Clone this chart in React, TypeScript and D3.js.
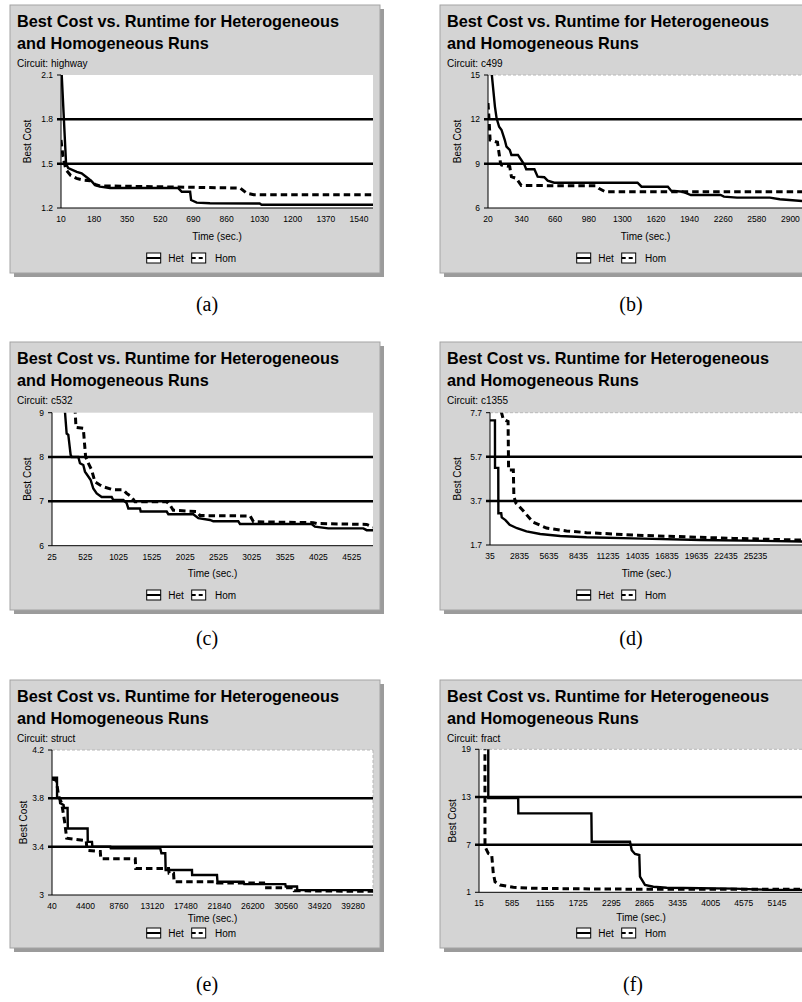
import React from 'react';
import * as d3 from 'd3';

// ---------- tick labels ----------
const highwayXTicks = [10, 180, 350, 520, 690, 860, 1030, 1200, 1370, 1540];
const highwayYTicks = [1.2, 1.5, 1.8, 2.1];
const c499XTicks = [20, 340, 660, 980, 1300, 1620, 1940, 2260, 2580, 2900];
const c499YTicks = [6, 9, 12, 15];
const c532XTicks = [25, 525, 1025, 1525, 2025, 2525, 3025, 3525, 4025, 4525];
const c532YTicks = [6, 7, 8, 9];
const c1355XTicks = [35, 2835, 5635, 8435, 11235, 14035, 16835, 19635, 22435, 25235];
const c1355YTicks = [1.7, 3.7, 5.7, 7.7];
const structXTicks = [40, 4400, 8760, 13120, 17480, 21840, 26200, 30560, 34920, 39280];
const structYTicks = [3, 3.4, 3.8, 4.2];
const fractXTicks = [15, 585, 1155, 1725, 2295, 2865, 3435, 4005, 4575, 5145];
const fractYTicks = [1, 7, 13, 19];

// ---------- series ----------
const highwayHetTime = [10, 36, 47, 91, 116, 150, 168, 185, 210, 262, 612, 630, 673, 678, 707, 775, 1030, 1040, 1612];
const highwayHetCost = [2.2, 1.5, 1.47, 1.445, 1.435, 1.4, 1.38, 1.355, 1.345, 1.335, 1.335, 1.31, 1.31, 1.254, 1.236, 1.232, 1.23, 1.222, 1.222];
const highwayHomTime = [10, 20, 35, 60, 90, 120, 160, 185, 210, 930, 963, 1000, 1612];
const highwayHomCost = [1.66, 1.55, 1.46, 1.42, 1.4, 1.39, 1.385, 1.36, 1.35, 1.335, 1.3, 1.29, 1.29];

const c499HetTime = [40, 86, 102, 126, 149, 180, 196, 227, 243, 305, 337, 368, 384, 462, 493, 556, 588, 651, 1444, 1482, 1733, 1764, 1874, 1952, 2235, 2267, 2392, 2705, 2799, 3020];
const c499HetCost = [16.2, 12.86, 12.07, 11.5, 11.28, 10.6, 10.15, 9.93, 9.59, 9.59, 9.25, 8.91, 8.62, 8.62, 8.12, 8.08, 7.85, 7.71, 7.71, 7.44, 7.44, 7.17, 7.1, 6.88, 6.88, 6.77, 6.7, 6.7, 6.59, 6.47];
const c499HomTime = [20, 30, 40, 110, 140, 150, 227, 243, 290, 337, 1043, 1074, 1137, 3020];
const c499HomCost = [13.1, 12.0, 10.6, 10.45, 9.0, 8.9, 8.8, 8.12, 8.0, 7.52, 7.5, 7.33, 7.1, 7.1];

const c532HetTime = [200, 245, 270, 305, 320, 420, 445, 495, 520, 570, 606, 645, 696, 771, 921, 945, 1096, 1146, 1171, 1346, 1357, 1747, 1772, 2147, 2222, 2397, 2447, 2822, 2848, 3923, 3973, 4173, 4700, 4750, 4845];
const c532HetCost = [9.4, 8.53, 8.5, 8.05, 8.0, 8.0, 7.86, 7.82, 7.67, 7.56, 7.48, 7.29, 7.18, 7.1, 7.1, 7.03, 7.03, 6.96, 6.84, 6.84, 6.77, 6.77, 6.71, 6.71, 6.62, 6.58, 6.55, 6.55, 6.49, 6.49, 6.43, 6.39, 6.39, 6.35, 6.35];
const c532HomTime = [355, 385, 495, 530, 570, 620, 670, 745, 795, 945, 1096, 1146, 1221, 1271, 1747, 1796, 1846, 2200, 2247, 3000, 3050, 3950, 4000, 4750, 4845];
const c532HomCost = [9.6, 8.67, 8.65, 8.0, 7.86, 7.71, 7.44, 7.37, 7.33, 7.26, 7.26, 7.18, 7.1, 6.99, 6.99, 6.92, 6.8, 6.77, 6.68, 6.67, 6.54, 6.52, 6.5, 6.48, 6.42];

const c1355HetTime = [35, 505, 512, 820, 830, 1100, 1150, 1500, 1900, 2600, 3500, 4800, 6700, 9200, 13600, 20000, 29743];
const c1355HetCost = [7.35, 7.35, 5.2, 5.2, 3.14, 3.14, 2.95, 2.83, 2.62, 2.46, 2.32, 2.2, 2.11, 2.05, 2.0, 1.93, 1.86];
const c1355HomTime = [1100, 1300, 1750, 1800, 2250, 2300, 2500, 3100, 4100, 5400, 7300, 9200, 11700, 13600, 18000, 23100, 29743];
const c1355HomCost = [7.75, 7.4, 7.3, 5.1, 5.1, 3.9, 3.6, 3.3, 2.74, 2.47, 2.34, 2.26, 2.2, 2.15, 2.08, 2.0, 1.92];

const structHetTime = [40, 690, 700, 1030, 1100, 1550, 1600, 2070, 2100, 4680, 4700, 5250, 5300, 7640, 7700, 14150, 14300, 14800, 14850, 18280, 18300, 21540, 21600, 25000, 25100, 30440, 30500, 31970, 32000, 41870];
const structHetCost = [3.97, 3.97, 3.81, 3.8, 3.76, 3.745, 3.72, 3.72, 3.55, 3.55, 3.44, 3.44, 3.4, 3.4, 3.386, 3.386, 3.345, 3.345, 3.207, 3.207, 3.166, 3.166, 3.11, 3.11, 3.09, 3.09, 3.07, 3.07, 3.04, 3.04];
const structHomTime = [40, 600, 900, 1300, 1700, 1950, 4500, 4600, 6330, 6400, 10890, 10950, 15230, 15300, 15880, 15950, 21540, 21600, 27620, 27700, 31520, 31600, 41870];
const structHomCost = [3.96, 3.95, 3.82, 3.76, 3.6, 3.47, 3.45, 3.37, 3.36, 3.3, 3.3, 3.22, 3.22, 3.18, 3.18, 3.11, 3.11, 3.1, 3.1, 3.06, 3.06, 3.035, 3.03];

const fractHetTime = [174, 175, 690, 692, 1950, 1956, 2615, 2645, 2701, 2775, 2787, 2873, 3017, 3247, 4394, 4969, 5594];
const fractHetCost = [25, 12.85, 12.85, 10.94, 10.94, 7.37, 7.37, 6.3, 5.82, 5.7, 2.96, 1.92, 1.7, 1.58, 1.46, 1.33, 1.3];
const fractHomTime = [117, 118, 175, 234, 261, 291, 377, 606, 950, 2099, 3247, 5594];
const fractHomCost = [25, 6.74, 5.9, 5.7, 3.4, 2.33, 1.92, 1.63, 1.5, 1.41, 1.38, 1.38];

const titleLine1 = 'Best Cost vs. Runtime for Heterogeneous';
const titleLine2 = 'and Homogeneous Runs';
const legendLabels = ['Het', 'Hom'];

type Panel = {
  circuit: string; caption: string;
  bx: number; by: number;
  plotL: number; plotR: number; plotT: number; plotB: number;
  xDomain: [number, number]; yDomain: [number, number];
  xTicks: number[]; yTicks: number[];
  hetT: number[]; hetV: number[]; homT: number[]; homV: number[];
  border: boolean; yLabelX: number; xLabelDy: number; captionX: number; captionY: number;
};

const panels: Panel[] = [
  { circuit: 'highway', caption: '(a)', bx: 10, by: 5, plotL: 61, plotR: 373, plotT: 75, plotB: 208,
    xDomain: [10, 1612], yDomain: [1.2, 2.1], xTicks: highwayXTicks, yTicks: highwayYTicks,
    hetT: highwayHetTime, hetV: highwayHetCost, homT: highwayHomTime, homV: highwayHomCost,
    border: false, yLabelX: 27, xLabelDy: 234.5, captionX: 207, captionY: 311 },
  { circuit: 'c499', caption: '(b)', bx: 440, by: 5, plotL: 488, plotR: 803, plotT: 75, plotB: 208,
    xDomain: [20, 3020], yDomain: [6, 15], xTicks: c499XTicks, yTicks: c499YTicks,
    hetT: c499HetTime, hetV: c499HetCost, homT: c499HomTime, homV: c499HomCost,
    border: true, yLabelX: 457.5, xLabelDy: 234.5, captionX: 631, captionY: 311 },
  { circuit: 'c532', caption: '(c)', bx: 10, by: 342, plotL: 52, plotR: 373, plotT: 412.7, plotB: 545.7,
    xDomain: [25, 4845], yDomain: [6, 9], xTicks: c532XTicks, yTicks: c532YTicks,
    hetT: c532HetTime, hetV: c532HetCost, homT: c532HomTime, homV: c532HomCost,
    border: false, yLabelX: 27.5, xLabelDy: 234.5, captionX: 207, captionY: 645 },
  { circuit: 'c1355', caption: '(d)', bx: 440, by: 342, plotL: 490, plotR: 803, plotT: 412.7, plotB: 545,
    xDomain: [35, 29743], yDomain: [1.7, 7.7], xTicks: c1355XTicks, yTicks: c1355YTicks,
    hetT: c1355HetTime, hetV: c1355HetCost, homT: c1355HomTime, homV: c1355HomCost,
    border: true, yLabelX: 457.5, xLabelDy: 234.5, captionX: 631, captionY: 645 },
  { circuit: 'struct', caption: '(e)', bx: 10, by: 680, plotL: 52, plotR: 373, plotT: 750, plotB: 895,
    xDomain: [40, 41870], yDomain: [3, 4.2], xTicks: structXTicks, yTicks: structYTicks,
    hetT: structHetTime, hetV: structHetCost, homT: structHomTime, homV: structHomCost,
    border: true, yLabelX: 23, xLabelDy: 241.5, captionX: 207, captionY: 991 },
  { circuit: 'fract', caption: '(f)', bx: 440, by: 680, plotL: 479, plotR: 803, plotT: 749.3, plotB: 892.3,
    xDomain: [15, 5594], yDomain: [1, 19], xTicks: fractXTicks, yTicks: fractYTicks,
    hetT: fractHetTime, hetV: fractHetCost, homT: fractHomTime, homV: fractHomCost,
    border: true, yLabelX: 452.5, xLabelDy: 240.5, captionX: 633, captionY: 991 },
];

const SANS = '"Liberation Sans", Arial, sans-serif';
const SERIF = '"Liberation Serif", "Times New Roman", serif';

function ChartPanel({ p, idx }: { p: Panel; idx: number }) {
  const x = d3.scaleLinear().domain(p.xDomain).range([p.plotL, p.plotR]);
  const y = d3.scaleLinear().domain(p.yDomain).range([p.plotB, p.plotT]);
  const line = d3.line<[number, number]>().x(d => x(d[0])).y(d => y(d[1]));
  const het = p.hetT.map((t, i) => [t, p.hetV[i]] as [number, number]);
  const hom = p.homT.map((t, i) => [t, p.homV[i]] as [number, number]);
  const bw = 370, bh = 268;
  const clipId = `clip-${idx}`;
  const fmt = (v: number) => String(v);
  const legY = p.by + 253;
  const lx = p.bx + 136.7;
  return (
    <g>
      <rect x={p.bx + 4} y={p.by + 4} width={bw} height={bh} fill="#9b9b9b" />
      <rect x={p.bx} y={p.by} width={bw} height={bh} fill="#d4d4d4" stroke="#a3a3a3" strokeWidth={1} />
      <text x={p.bx + 7} y={p.by + 21.7} fontFamily={SANS} fontWeight="bold" fontSize={16.3} fill="#000">{titleLine1}</text>
      <text x={p.bx + 7} y={p.by + 43.5} fontFamily={SANS} fontWeight="bold" fontSize={16.3} fill="#000">{titleLine2}</text>
      <text x={p.bx + 7} y={p.by + 62.3} fontFamily={SANS} fontSize={10} fill="#000">{`Circuit: ${p.circuit}`}</text>
      <rect x={p.plotL} y={p.plotT} width={p.plotR - p.plotL} height={p.plotB - p.plotT} fill="#fff" />
      {p.border && (
        <g stroke="#b8b8b8" strokeWidth={1} strokeDasharray="3 2" fill="none">
          <line x1={p.plotL} x2={p.plotR} y1={p.plotT} y2={p.plotT} />
          <line x1={p.plotR} x2={p.plotR} y1={p.plotT} y2={p.plotB} />
        </g>
      )}
      <defs>
        <clipPath id={clipId}>
          <rect x={p.plotL} y={p.plotT} width={p.plotR - p.plotL} height={p.plotB - p.plotT} />
        </clipPath>
      </defs>
      {p.yTicks.slice(1, -1).map(v => (
        <line key={v} x1={p.plotL - 4} x2={p.plotR} y1={y(v)} y2={y(v)} stroke="#000" strokeWidth={2.5} />
      ))}
      <g clipPath={`url(#${clipId})`}>
        <path d={line(het) || ''} fill="none" stroke="#000" strokeWidth={2.4} strokeLinejoin="miter" />
        <path d={line(hom) || ''} fill="none" stroke="#000" strokeWidth={3} strokeDasharray="6.5 4" />
      </g>
      <line x1={p.plotL} x2={p.plotL} y1={p.plotT} y2={p.plotB} stroke="#000" strokeWidth={1} />
      <line x1={p.plotL} x2={p.plotR} y1={p.plotB} y2={p.plotB} stroke="#000" strokeWidth={1} />
      {p.yTicks.map(v => (
        <g key={v}>
          <line x1={p.plotL - 4} x2={p.plotL} y1={y(v)} y2={y(v)} stroke="#000" strokeWidth={1} />
          <text x={p.plotL - 8} y={y(v)} dy="0.35em" textAnchor="end" fontFamily={SANS} fontSize={8.5} fill="#000">{fmt(v)}</text>
        </g>
      ))}
      {p.xTicks.map(v => (
        <text key={v} x={x(v)} y={p.plotB + 14} textAnchor="middle" fontFamily={SANS} fontSize={8.5} fill="#000">{fmt(v)}</text>
      ))}
      <text transform={`translate(${p.yLabelX},${(p.plotT + p.plotB) / 2}) rotate(-90)`} dy="0.35em" textAnchor="middle" fontFamily={SANS} fontSize={10} fill="#000">Best Cost</text>
      <text x={(p.plotL + p.plotR) / 2} y={p.by + p.xLabelDy} textAnchor="middle" fontFamily={SANS} fontSize={10} fill="#000">Time (sec.)</text>
      <g>
        <rect x={lx} y={legY - 5} width={14} height={10} fill="#fff" stroke="#000" strokeWidth={1} />
        <line x1={lx} x2={lx + 14} y1={legY} y2={legY} stroke="#000" strokeWidth={2} />
        <text x={lx + 21.6} y={legY} dy="0.35em" fontFamily={SANS} fontSize={10} fill="#000">{legendLabels[0]}</text>
        <rect x={lx + 45} y={legY - 5} width={14} height={10} fill="#fff" stroke="#000" strokeWidth={1} />
        <line x1={lx + 45} x2={lx + 59} y1={legY} y2={legY} stroke="#000" strokeWidth={2} strokeDasharray="4 3" />
        <text x={lx + 68.3} y={legY} dy="0.35em" fontFamily={SANS} fontSize={10} fill="#000">{legendLabels[1]}</text>
      </g>
      <text x={p.captionX} y={p.captionY} textAnchor="middle" fontFamily={SERIF} fontSize={20} fill="#000">{p.caption}</text>
    </g>
  );
}

export default function App() {
  return (
    <svg width={802} height={1002} viewBox="0 0 802 1002" style={{ position: 'absolute', left: 0, top: 0, background: '#fff' }}>
      <rect x={0} y={0} width={802} height={1002} fill="#fff" />
      {panels.map((p, i) => <ChartPanel key={p.caption} p={p} idx={i} />)}
    </svg>
  );
}
